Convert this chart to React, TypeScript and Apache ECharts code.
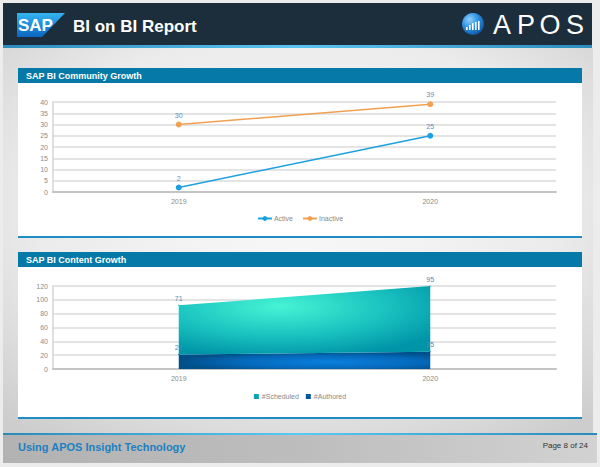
import React, { useEffect, useRef } from "react";
import * as echarts from "echarts";

const years = ["2019", "2020"];
const activeValues = [2, 25];
const inactiveValues = [30, 39];
const authoredValues = [21, 25];
const scheduledValues = [71, 95];
const communityAxis = { min: 0, max: 40, interval: 5 };
const contentAxis = { min: 0, max: 120, interval: 20 };

const FONT = '"Liberation Sans", Arial, sans-serif';

function lin(x1: number, y1: number, x2: number, y2: number, stops: [number, string][]) {
  return new echarts.graphic.LinearGradient(x1, y1, x2, y2, stops.map(([offset, color]) => ({ offset, color })));
}

export default function App() {
  const ref = useRef<HTMLDivElement>(null);
  useEffect(() => {
    document.body.style.margin = "0";
    const chart = echarts.init(ref.current!, undefined, { renderer: "svg" });

    const axisLabel = { color: "#8a8a8a", fontSize: 7, fontFamily: FONT };
    const splitLine = { show: true, lineStyle: { color: "#e4e4e4", width: 2 } };
    const valueLabel = { show: true, position: "top", fontSize: 7, color: "#5b90bf", fontFamily: FONT, distance: 3 };

    const panel = (y: number, bodyH: number, title: string) => [
      { type: "rect", z: -50, shape: { x: 18, y, width: 564, height: 15 }, style: { fill: "#0679a8" } },
      { type: "rect", z: -50, shape: { x: 18, y: y + 15, width: 564, height: bodyH }, style: { fill: "#ffffff" } },
      { type: "rect", z: -49, shape: { x: 18, y: y + 15 + bodyH - 1, width: 564, height: 2 }, style: { fill: "#1f8dc4" } },
      {
        type: "text", z: -40, x: 26, y: y + 8,
        style: { text: title, fill: "#ffffff", fontSize: 9, fontWeight: "bold", fontFamily: FONT, verticalAlign: "middle" },
      },
    ];

    const bars = [3, 5, 7, 8, 9];
    const apos: any[] = [
      {
        type: "circle", z: -40, shape: { cx: 473, cy: 24, r: 11 },
        style: { fill: new echarts.graphic.RadialGradient(0.35, 0.3, 0.8, [
          { offset: 0, color: "#8fd0ff" }, { offset: 0.5, color: "#2a8fe0" }, { offset: 1, color: "#0a4f9a" },
        ]) },
      },
      ...bars.map((h, i) => ({
        type: "rect", z: -39, shape: { x: 466 + i * 3, y: 30 - h, width: 1.6, height: h },
        style: { fill: "#ffffff" },
      })),
    ];
    const aposLetters = ["A", "P", "O", "S"];
    const aposX = [502, 526, 550, 575];

    chart.setOption({
      animation: false,
      graphic: {
        elements: [
          { type: "rect", z: -100, shape: { x: 0, y: 0, width: 600, height: 467 }, style: { fill: "#ececec" } },
          {
            type: "rect", z: -99, shape: { x: 3, y: 48, width: 590, height: 385 },
            style: { fill: new echarts.graphic.RadialGradient(0.5, 0.4, 0.75, [
              { offset: 0, color: "#fafafa" }, { offset: 0.6, color: "#ebebeb" }, { offset: 1, color: "#cdcdcd" },
            ]) },
          },
          { type: "rect", z: -98, shape: { x: 3, y: 3, width: 589, height: 42 }, style: { fill: "#1c2e3b" } },
          {
            type: "rect", z: -98, shape: { x: 3, y: 45, width: 589, height: 3 },
            style: { fill: lin(0, 0, 1, 0, [[0, "#2b8cbd"], [0.5, "#5cc4f0"], [1, "#2b8cbd"]]) },
          },
          {
            type: "polygon", z: -40, shape: { points: [[17, 13], [65, 13], [42, 37], [17, 37]] },
            style: { fill: lin(0, 0, 0, 1, [[0, "#35b4f0"], [1, "#0b66c2"]]) },
          },
          {
            type: "text", z: -39, x: 18, y: 25,
            style: { text: "SAP", fill: "#ffffff", fontSize: 17, fontWeight: "bold", fontFamily: FONT, verticalAlign: "middle" },
          },
          {
            type: "text", z: -39, x: 73, y: 26,
            style: { text: "BI on BI Report", fill: "#ffffff", fontSize: 17, fontWeight: "bold", fontFamily: FONT, verticalAlign: "middle" },
          },
          ...apos,
          ...aposLetters.map((t, i) => ({
            type: "text", z: -39, x: aposX[i], y: 25,
            style: { text: t, fill: "#ffffff", fontSize: 27, fontFamily: FONT, align: "center", verticalAlign: "middle" },
          })),
          ...panel(68, 154, "SAP BI Community Growth"),
          ...panel(252, 151, "SAP BI Content Growth"),
          {
            type: "rect", z: -98, shape: { x: 3, y: 433, width: 594, height: 2 },
            style: { fill: lin(0, 0, 1, 0, [[0, "#2a8ab8"], [0.5, "#5ac8f2"], [1, "#2a8ab8"]]) },
          },
          {
            type: "rect", z: -98, shape: { x: 3, y: 435, width: 594, height: 28 },
            style: { fill: lin(0, 0, 1, 0, [[0, "#b2b2b2"], [0.5, "#bdbdbd"], [1, "#d2d2d2"]]) },
          },
          {
            type: "text", z: -39, x: 18, y: 447,
            style: { text: "Using APOS Insight Technology", fill: "#1d80c0", fontSize: 11, fontWeight: "bold", fontFamily: FONT, verticalAlign: "middle" },
          },
          {
            type: "text", z: -39, x: 588, y: 445,
            style: { text: "Page 8 of 24", fill: "#333333", fontSize: 8, fontFamily: FONT, align: "right", verticalAlign: "middle" },
          },
        ],
      },
      grid: [
        { left: 53, right: 44, top: 102, height: 90 },
        { left: 53, right: 44, top: 286, height: 83 },
      ],
      legend: [
        {
          data: ["Active", "Inactive"], top: 210, left: "center", itemWidth: 14, itemHeight: 6, itemGap: 9,
          textStyle: { fontSize: 7, color: "#888", fontFamily: FONT, padding: [0, 0, 0, -3] },
        },
        {
          data: ["#Scheduled", "#Authored"], top: 388, left: "center", icon: "rect", itemWidth: 5, itemHeight: 5, itemGap: 7,
          textStyle: { fontSize: 7, color: "#888", fontFamily: FONT, padding: [0, 0, 0, -2] },
        },
      ],
      xAxis: [
        {
          gridIndex: 0, type: "category", data: years, boundaryGap: true,
          axisLine: { lineStyle: { color: "#c4c4c4", width: 2 } }, axisTick: { show: false },
          axisLabel: { ...axisLabel, margin: 6 },
        },
        {
          gridIndex: 1, type: "category", data: years, boundaryGap: true,
          axisLine: { lineStyle: { color: "#c4c4c4", width: 2 } }, axisTick: { show: false },
          axisLabel: { ...axisLabel, margin: 6 },
        },
      ],
      yAxis: [
        {
          gridIndex: 0, type: "value", ...communityAxis,
          axisLine: { show: true, lineStyle: { color: "#d4d4d4", width: 1.5 } }, axisTick: { show: false },
          axisLabel: { ...axisLabel, margin: 5 }, splitLine,
        },
        {
          gridIndex: 1, type: "value", ...contentAxis,
          axisLine: { show: true, lineStyle: { color: "#d4d4d4", width: 1.5 } }, axisTick: { show: false },
          axisLabel: { ...axisLabel, margin: 5 }, splitLine,
        },
      ],
      series: [
        {
          name: "Active", type: "line", xAxisIndex: 0, yAxisIndex: 0, data: activeValues,
          color: "#1ba0e0", symbol: "circle", symbolSize: 6, lineStyle: { width: 1.5 }, label: valueLabel,
        },
        {
          name: "Inactive", type: "line", xAxisIndex: 0, yAxisIndex: 0, data: inactiveValues,
          color: "#f2a052", symbol: "circle", symbolSize: 6, lineStyle: { width: 1.5 }, label: valueLabel,
        },
        {
          name: "#Authored", type: "line", xAxisIndex: 1, yAxisIndex: 1, data: authoredValues, stack: "content",
          color: "#00579a", symbol: "rect", symbolSize: 1, showSymbol: true, lineStyle: { width: 0 },
          areaStyle: {
            opacity: 1,
            color: new echarts.graphic.RadialGradient(0.6, 0.6, 0.6, [
              { offset: 0, color: "#0a80de" }, { offset: 0.6, color: "#0569bb" }, { offset: 1, color: "#004f88" },
            ]),
          },
          label: { ...valueLabel, color: "#4f8bb8" },
        },
        {
          name: "#Scheduled", type: "line", xAxisIndex: 1, yAxisIndex: 1, data: scheduledValues, stack: "content",
          color: "#0aa3b3", symbol: "rect", symbolSize: 1, showSymbol: true, lineStyle: { width: 0 },
          areaStyle: {
            opacity: 1,
            color: new echarts.graphic.RadialGradient(0.4, 0.3, 0.75, [
              { offset: 0, color: "#46f4d4" }, { offset: 0.55, color: "#1bc4c0" }, { offset: 1, color: "#0094a8" },
            ]),
          },
          label: { ...valueLabel, color: "#4f8bb8" },
        },
      ],
    });
    return () => chart.dispose();
  }, []);
  return <div ref={ref} style={{ position: "absolute", left: 0, top: 0, width: 600, height: 467 }} />;
}
